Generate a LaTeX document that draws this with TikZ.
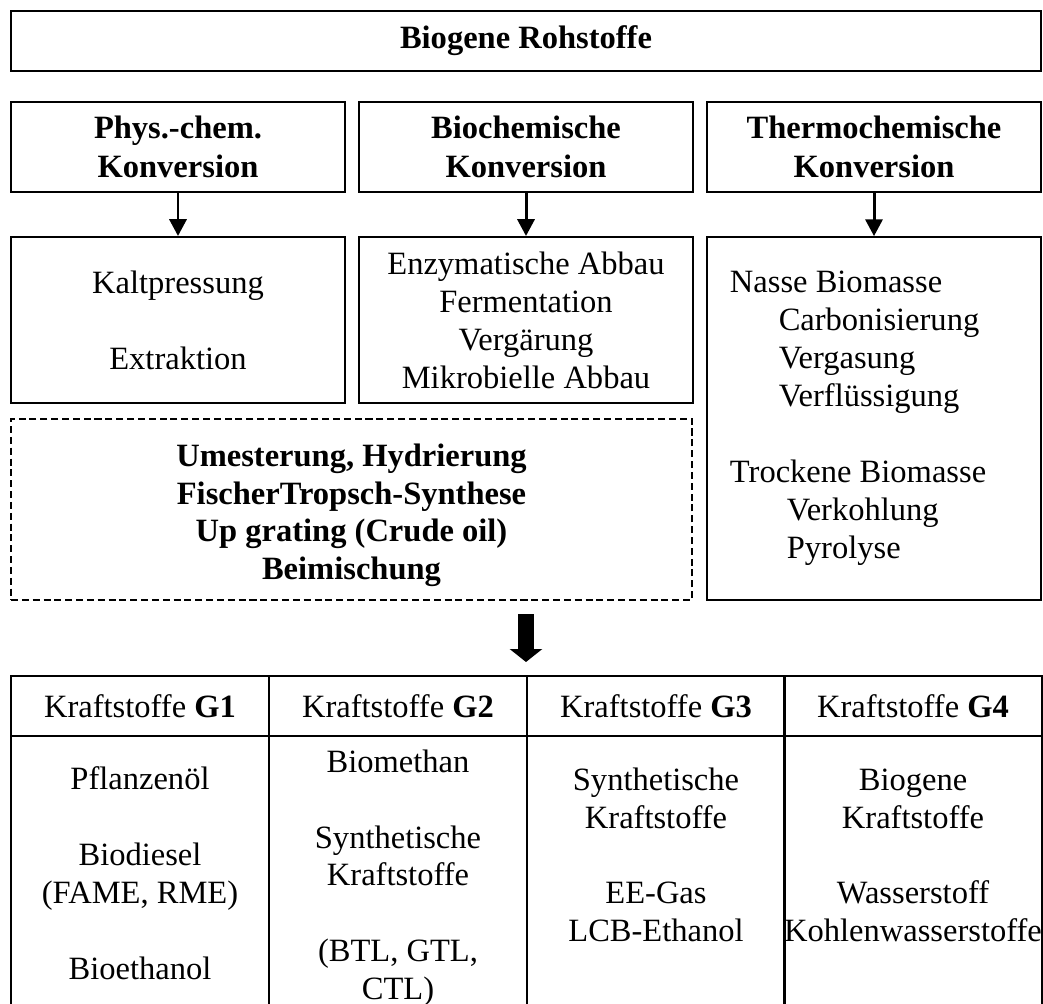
\documentclass[tikz,border=0pt]{standalone}
\usepackage{fontspec}
\setmainfont{Liberation Serif}
\usetikzlibrary{arrows.meta}

\begin{document}
\begin{tikzpicture}[x=0.369pt,y=-0.369pt,
	every node/.style={font=\fontsize{12}{14}\selectfont,inner sep=0pt},
	kbox/.style={draw,line width=0.7pt,minimum width=123.2pt,align=center},
	kdashbox/.style={draw,line width=1pt,dash pattern=on 2.6pt off 1.4pt,minimum width=251.3pt,minimum height=66.8pt,align=center},
	kcell/.style={draw,line width=0.5pt,minimum width=95.2pt},
	karrow/.style={line width=1.1pt,-{Triangle[length=6.2pt,width=6.3pt]}},
	kbigarrow/.style={line width=5.9pt,-{Triangle[length=4.8pt,width=11.8pt]}}]
			\useasboundingbox (0,0) rectangle (1043,1003);
			%Top box
			\coordinate (ctop) at (526,41);
			\node [] (roh) at (ctop) [draw,line width=0.7pt,minimum width=380.1pt,minimum height=22.1pt] {\textbf{Biogene Rohstoffe}};
			%Kinds of conversion
			\coordinate (cphys) at (178,147);
			\coordinate (cbio) at (526,147);
			\coordinate (cthermo) at (874,147);
			\node [] (phys) at (cphys) [kbox,minimum height=33.2pt] {\textbf{Phys.-chem.}\\[0.6pt]\textbf{Konversion}};
			\node [] (bio) at (cbio) [kbox,minimum height=33.2pt] {\textbf{Biochemische}\\[0.6pt]\textbf{Konversion}};
			\node [] (thermo) at (cthermo) [kbox,minimum height=33.2pt] {\textbf{Thermochemische}\\[0.6pt]\textbf{Konversion}};
			%Processes
			\coordinate (ckalt) at (178,320);
			\coordinate (cenz) at (526,320);
			\coordinate (cnass) at (874,418.5);
			\node [] (kalt) at (ckalt) [kbox,minimum height=61.3pt] {Kaltpressung\\[14pt]Extraktion};
			\node [] (enz) at (cenz) [kbox,minimum height=61.3pt] {Enzymatische Abbau\\Fermentation\\Vergärung\\Mikrobielle Abbau};
			\node [] (nass) at (cnass) [kbox,minimum height=133.9pt,align=flush left,text width=106.3pt,inner xsep=8.5pt] {Nasse Biomasse\\
				\hspace*{18pt}Carbonisierung\\
				\hspace*{18pt}Vergasung\\
				\hspace*{18pt}Verflüssigung\\[14pt]
				Trockene Biomasse\\
				\hspace*{21pt}Verkohlung\\
				\hspace*{21pt}Pyrolyse};
			\draw [karrow] (phys) -- (kalt);
			\draw [karrow] (bio) -- (enz);
			\draw [karrow] (thermo) -- (nass);
			%Dashed box
			\coordinate (cumest) at (351.5,509.5);
			\node [] (umest) at (cumest) [kdashbox] {\rule{0pt}{12.6pt}\textbf{Umesterung, Hydrierung}\\\textbf{FischerTropsch-Synthese}\\\textbf{Up grating (Crude oil)}\\\textbf{Beimischung}};
			%Big arrow
			\coordinate (bigtop) at (526,614);
			\coordinate (bigtip) at (526,662);
			\draw [kbigarrow] (bigtop) -- (bigtip);
			%Table head
			\coordinate (head1) at (140,706);
			\coordinate (head2) at (398,706);
			\coordinate (head3) at (656,706);
			\coordinate (head4) at (913,706);
			\node [] (g1) at (head1) [kcell,minimum height=22.1pt] {Kraftstoffe \textbf{G1}};
			\node [] (g2) at (head2) [kcell,minimum height=22.1pt] {Kraftstoffe \textbf{G2}};
			\node [] (g3) at (head3) [kcell,minimum height=22.1pt] {Kraftstoffe \textbf{G3}};
			\node [] (g4) at (head4) [kcell,minimum height=22.1pt] {Kraftstoffe \textbf{G4}};
			%Table body
			\coordinate (body1) at (140,873);
			\coordinate (body2) at (398,873);
			\coordinate (body3) at (656,873);
			\coordinate (body4) at (913,873);
			\node [] (b1) at (body1) [kcell,minimum height=101.1pt] {};
			\node [] (b2) at (body2) [kcell,minimum height=101.1pt] {};
			\node [] (b3) at (body3) [kcell,minimum height=101.1pt] {};
			\node [] (b4) at (body4) [kcell,minimum height=101.1pt] {};
			%Texts in the cells
			\coordinate (txt1) at (140,766);
			\coordinate (txt2) at (398,749);
			\coordinate (txt3) at (656,767);
			\coordinate (txt4) at (913,768);
			\node [anchor=north,align=center] (t1) at (txt1) {Pflanzenöl\\[14pt]Biodiesel\\(FAME, RME)\\[14pt]Bioethanol};
			\node [anchor=north,align=center] (t2) at (txt2) {Biomethan\\[14pt]Synthetische\\Kraftstoffe\\[14pt](BTL, GTL,\\CTL)};
			\node [anchor=north,align=center] (t3) at (txt3) {Synthetische\\Kraftstoffe\\[14pt]EE-Gas\\LCB-Ethanol};
			\node [anchor=north,align=center] (t4) at (txt4) {Biogene\\Kraftstoffe\\[14pt]Wasserstoff\\Kohlenwasserstoffe};
\end{tikzpicture}
\end{document}
